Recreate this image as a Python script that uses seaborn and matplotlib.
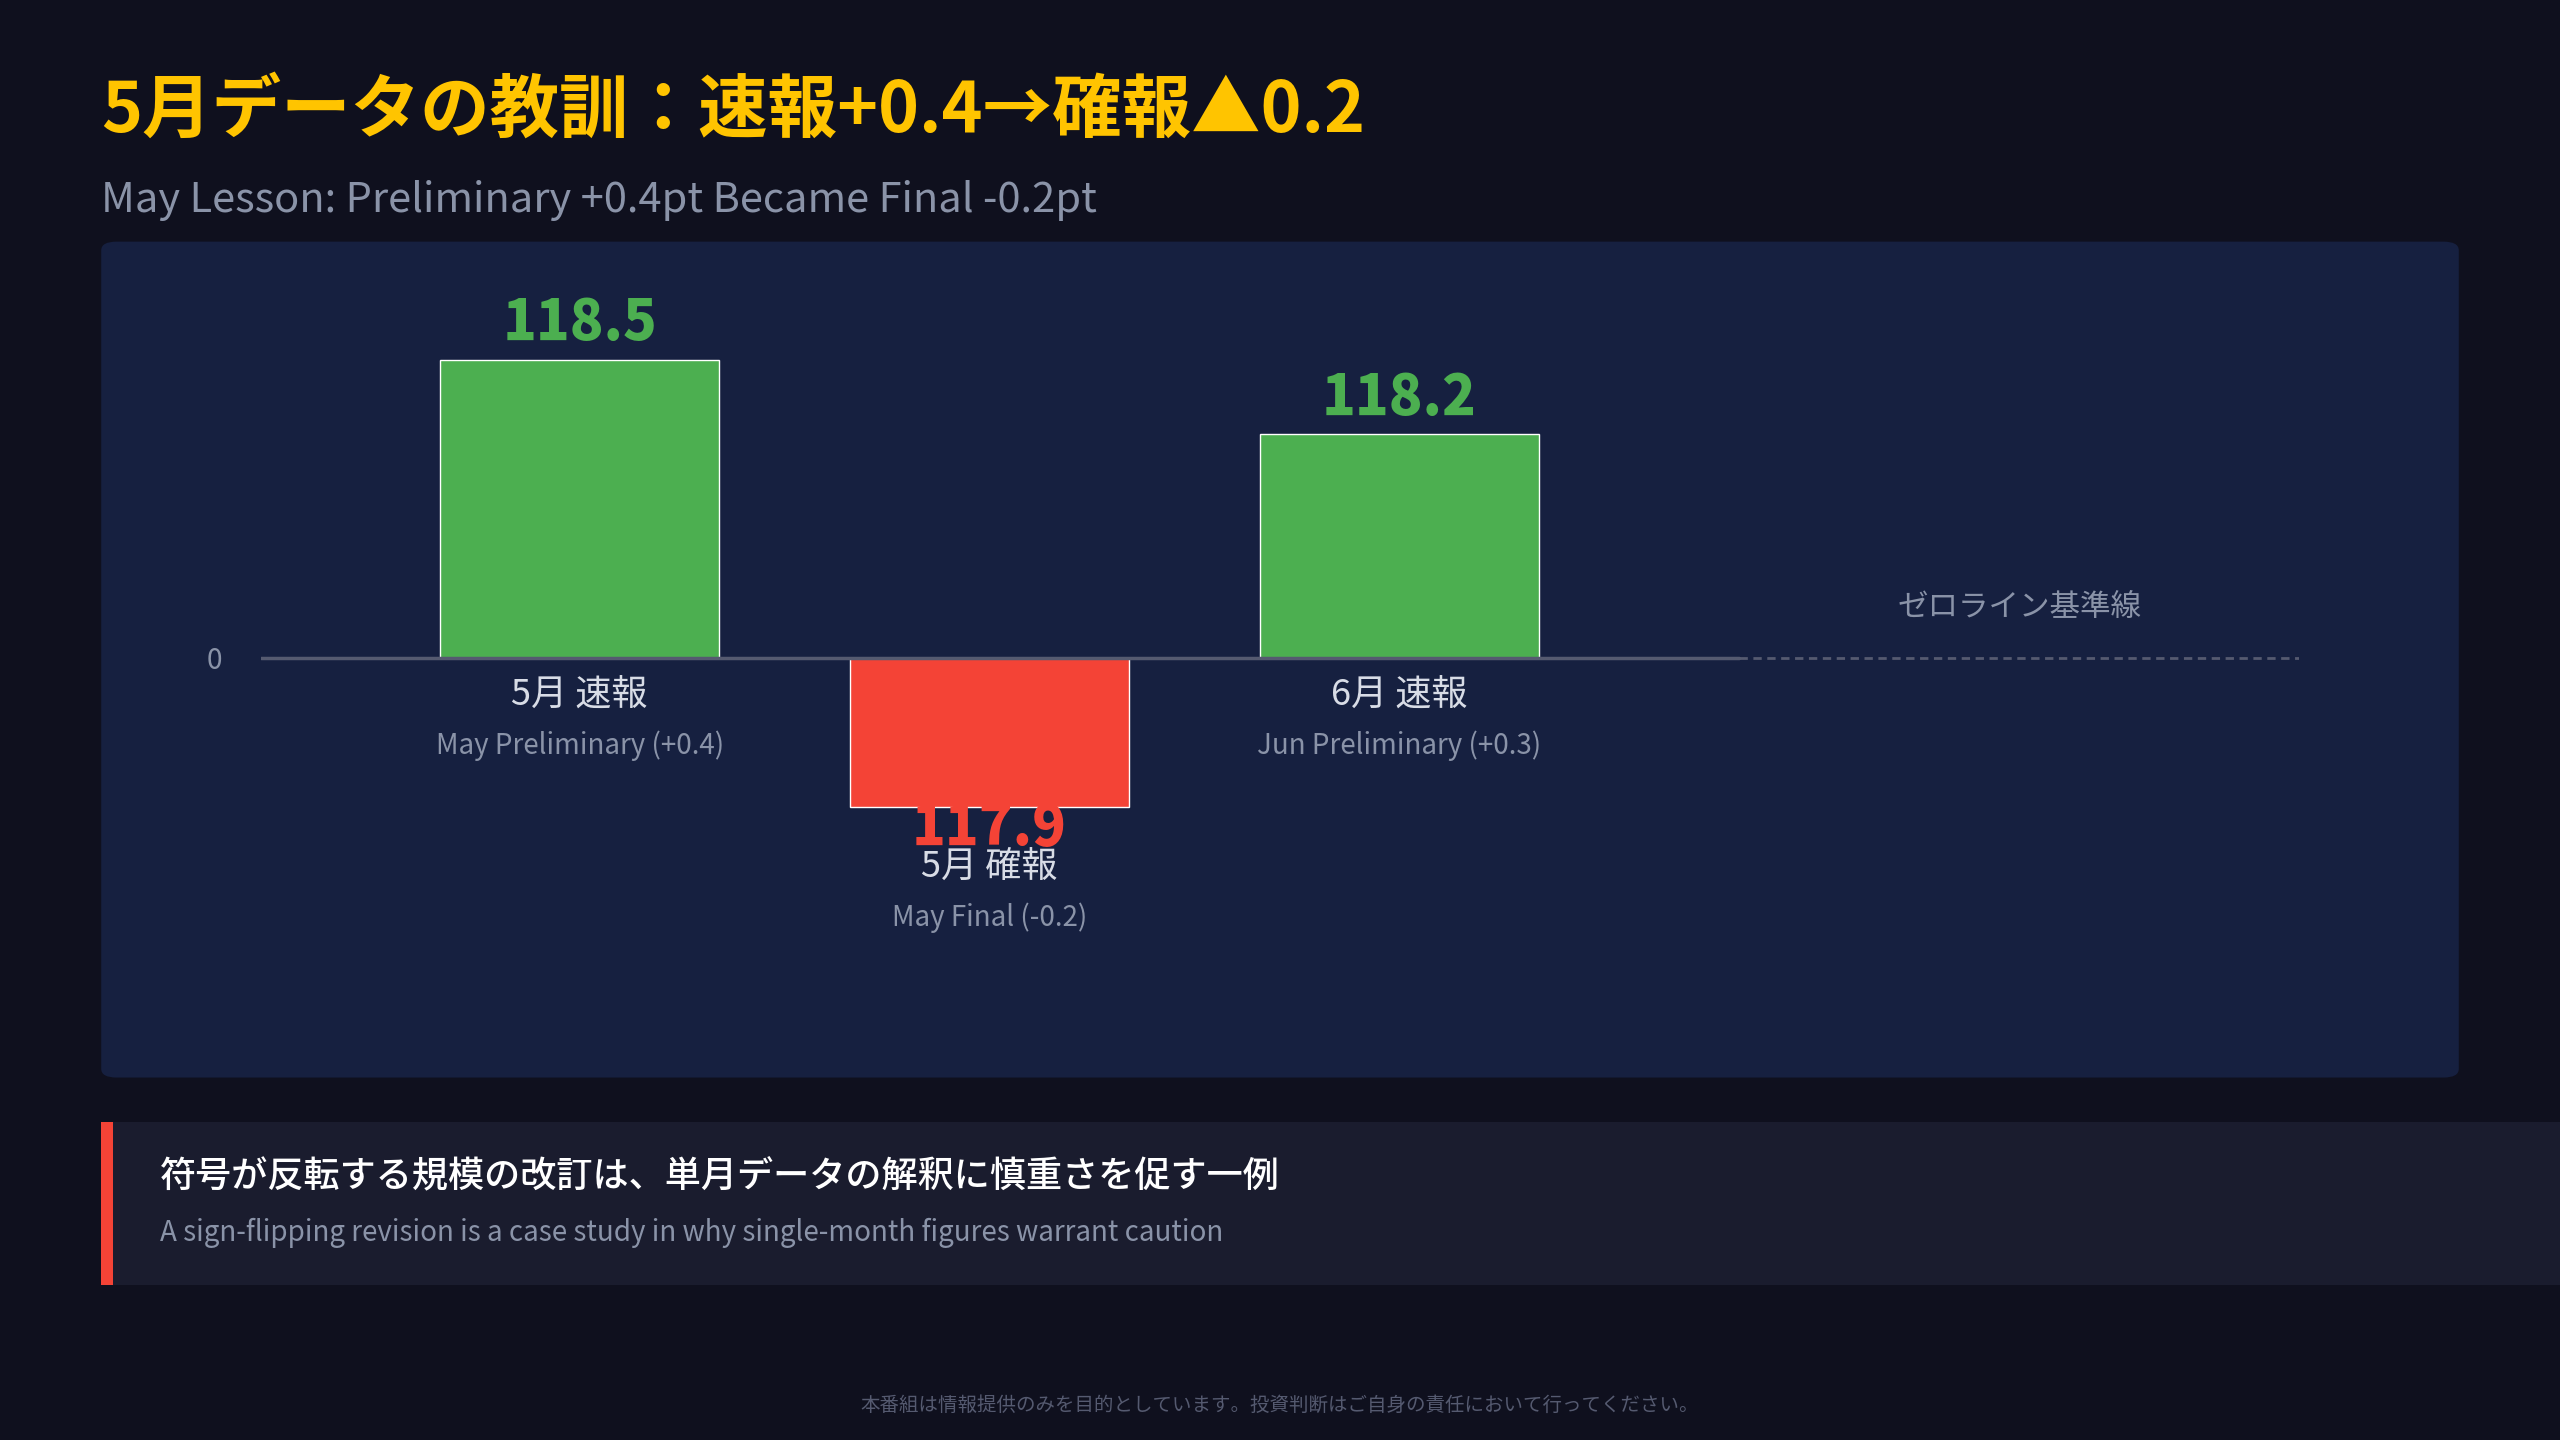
import matplotlib
matplotlib.use("Agg")
import matplotlib.pyplot as plt
import seaborn as sns
import pandas as pd
from matplotlib.patches import FancyBboxPatch, Rectangle

sns.set_style("dark")
plt.rcParams['font.family'] = ['Noto Sans CJK JP', 'DejaVu Sans']

# data
labels_jp = ["5月 速報", "5月 確報", "6月 速報"]
labels_en = ["May Preliminary (+0.4)", "May Final (-0.2)", "Jun Preliminary (+0.3)"]
changes = [0.4, -0.2, 0.3]
levels = ["118.5", "117.9", "118.2"]
df = pd.DataFrame({"x": [0, 1, 2], "change": changes})

BG = "#0F101E"
PANEL = "#162040"
GREEN = "#4CAF50"
RED = "#F44336"
GREY = "#8A93A8"

W, H = 1568, 882  # layout basis
fig = plt.figure(figsize=(25.6, 14.4), dpi=100, facecolor=BG)

def fx(px): return px / W
def fy(py): return 1 - py / H

# panel
fig.patches.append(FancyBboxPatch((fx(62), fy(660)), fx(1444), (660 - 148) / H,
                                  boxstyle="round,pad=0,rounding_size=0.006",
                                  transform=fig.transFigure, fc=PANEL, ec="none", zorder=0))
# callout
fig.patches.append(Rectangle((fx(62), fy(787)), fx(1506), (787 - 687) / H,
                             transform=fig.transFigure, fc="#1A1C2E", ec="none", zorder=0))
fig.patches.append(Rectangle((fx(62), fy(787)), fx(7), (787 - 687) / H,
                             transform=fig.transFigure, fc=RED, ec="none", zorder=1))

fig.text(fx(62), fy(68), "5月データの教訓：速報+0.4→確報▲0.2", color="#FFC400",
         fontsize=50, fontweight="bold", va="center")
fig.text(fx(62), fy(123), "May Lesson: Preliminary +0.4pt Became Final -0.2pt", color=GREY,
         fontsize=30, va="center")
fig.text(fx(98), fy(721), "符号が反転する規模の改訂は、単月データの解釈に慎重さを促す一例",
         color="white", fontsize=26, fontweight="medium", va="center")
fig.text(fx(98), fy(755), "A sign-flipping revision is a case study in why single-month figures warrant caution",
         color=GREY, fontsize=20, va="center")
fig.text(0.5, fy(861), "本番組は情報提供のみを目的としています。投資判断はご自身の責任において行ってください。",
         color="#555A70", fontsize=14, ha="center", va="center")

# axes: x from 160 to 1408 px, y from 160 to 640 px
ax = fig.add_axes([fx(160), fy(640), fx(1408 - 160), (640 - 160) / H])
ax.set_zorder(5)
ax.set_facecolor("none")
ax.patch.set_alpha(0)
unit_x = 251.0
x0 = (160 - 355) / unit_x
x1 = (1408 - 355) / unit_x
unit_y = 457.0

colors = [GREEN if c > 0 else RED for c in changes]
sns.barplot(data=df, x="x", y="change", hue="x", palette=colors, legend=False,
            width=171 / unit_x, native_scale=True, ax=ax, saturation=1, zorder=2)
ax.set_xlim(x0, x1)
ax.set_ylim(-(640 - 403) / unit_y, (403 - 160) / unit_y)

xd = (1065 - 355) / unit_x
ax.plot([x0, xd], [0, 0], color="#555A70", lw=2.5, zorder=3)
ax.plot([xd, x1], [0, 0], color="#555A70", lw=2, ls=(0, (3, 2)), zorder=3)
ax.text((1237 - 355) / unit_x, 31 / unit_y, "ゼロライン基準線", color=GREY, fontsize=22,
        ha="center", va="center")

for i, (c, lv, lj, le) in enumerate(zip(changes, levels, labels_jp, labels_en)):
    col = GREEN if c > 0 else RED
    if c > 0:
        ax.text(i, c + 0.01, lv, color=col, fontsize=40, fontweight="black", ha="center", va="bottom")
        base = 0
    else:
        ax.text(i, c + 0.01, lv, color=col, fontsize=40, fontweight="black", ha="center", va="top")
        base = c - 0.03
    ax.text(i, base - 23 / unit_y, lj, color="#D8DCE6", fontsize=26, ha="center", va="center")
    ax.text(i, base - 54 / unit_y, le, color=GREY, fontsize=20, ha="center", va="center")

ax.set_yticks([0])
ax.set_yticklabels(["0"], color=GREY, fontsize=20)
ax.tick_params(axis="y", length=0, pad=28)
ax.set_xticks([])
ax.set_xlabel("")
ax.set_ylabel("")
ax.grid(False)
for s in ax.spines.values():
    s.set_visible(False)

fig.savefig("out.png", dpi=100, facecolor=BG)
